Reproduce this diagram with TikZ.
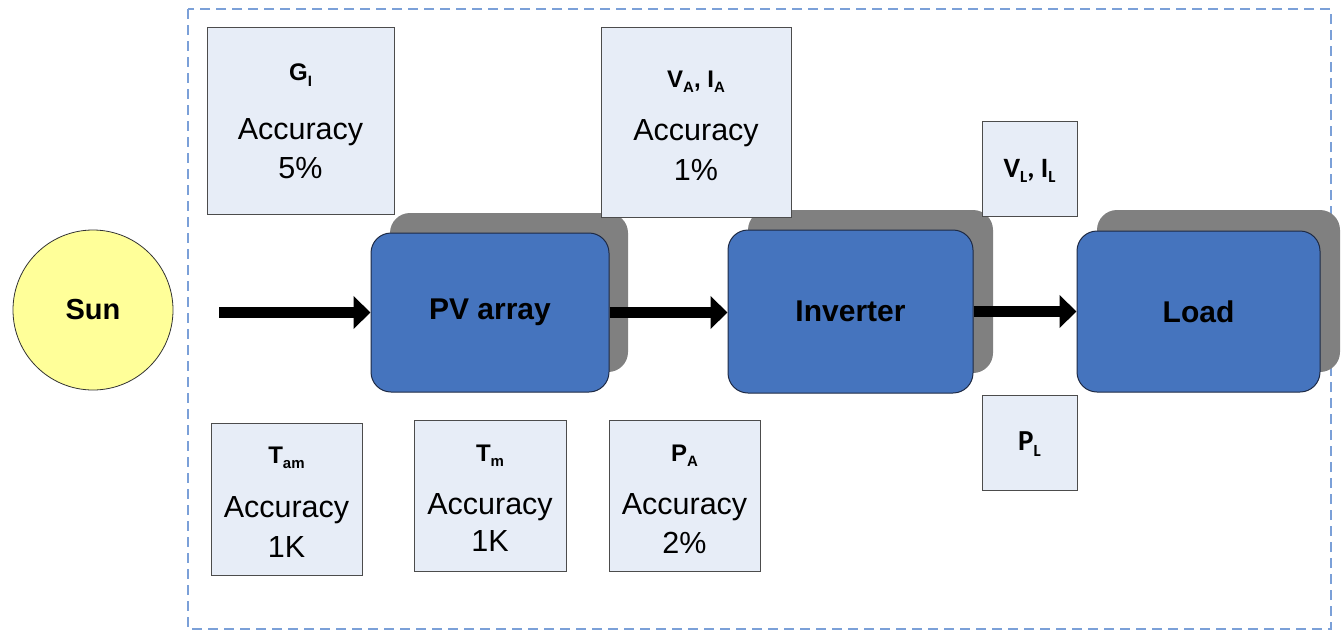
\documentclass[tikz,border=0pt]{standalone}
\usepackage{fontspec}
\setmainfont{Liberation Sans}
\newfontfamily\calfont{Carlito}
\usetikzlibrary{arrows.meta}
\definecolor{frameblue}{HTML}{7BA0D8}
\definecolor{boxblue}{HTML}{4574BE}
\definecolor{boxedge}{HTML}{1E2A44}
\definecolor{shadowgray}{HTML}{808080}
\definecolor{sensorfill}{HTML}{E7EDF7}
\definecolor{sunfill}{HTML}{FFFF99}
\newcommand\mysub[1]{\raisebox{-0.22em}{\fontsize{15}{15}\selectfont #1}}
\newcommand\calsub[1]{\raisebox{-0.18em}{\fontsize{17}{17}\selectfont #1}}
\tikzset{
  sensor/.style={draw=black!70, line width=1pt, fill=sensorfill, inner sep=0pt},
  block/.style={draw=boxedge, line width=1pt, fill=boxblue, rounded corners=20pt,
    minimum width=238pt, minimum height=159pt, font=\fontsize{30}{30}\selectfont\bfseries},
  hdr/.style={font=\fontsize{24}{24}\selectfont\bfseries, inner sep=0pt},
  calhdr/.style={font=\fontsize{28}{28}\selectfont\calfont\bfseries, inner sep=0pt},
  acc/.style={font=\fontsize{30.5}{30.5}\selectfont, inner sep=0pt},
  flow/.style={line width=11pt, -{Triangle[length=17pt 0 0,width=32pt 0 0]}},
}
\begin{document}
\begin{tikzpicture}[x=1pt,y=-1pt]
\useasboundingbox (0,0) rectangle (1341,630);
% frame
\draw[frameblue, line width=1.5pt, dash pattern=on 10pt off 6pt] (188,9) rectangle (1331,629);
% sun
\node[circle, draw=black!80, line width=0.8pt, fill=sunfill, minimum size=160pt, inner sep=0pt,
  font=\fontsize{29}{29}\selectfont\bfseries] (sun) at (93,310) {Sun};
% shadows
\fill[shadowgray, rounded corners=20pt] (390,213) rectangle (628,372);
\fill[shadowgray, rounded corners=20pt] (748,210) rectangle (993,373);
\fill[shadowgray, rounded corners=20pt] (1097,210) rectangle (1340,372);
% blocks
\node[block] (pv) at (490,312.5) {PV array};
\node[block, minimum width=245pt, minimum height=163pt] (inv) at (850.5,311.5) {Inverter};
\node[block, minimum width=243pt, minimum height=161pt] (load) at (1198.5,311.5) {Load};
% sensor boxes
\node[sensor, minimum width=187pt, minimum height=187pt] (gi) at (300.5,120.5) {};
\node[hdr] (gih) at (300.5,75) {G\mysub{I}};
\node[acc] (gia) at (300.5,132) {Accuracy};
\node[acc] (gib) at (300.5,168) {5\%};

\node[sensor, minimum width=190pt, minimum height=190pt] (va) at (696,122) {};
\node[hdr] (vah) at (696,82) {V\mysub{A}, I\mysub{A}};
\node[acc] (vaa) at (696,133) {Accuracy};
\node[acc] (vab) at (696,170) {1\%};

\node[sensor, minimum width=95pt, minimum height=95pt] (vl) at (1029.5,168.5) {};
\node[calhdr] (vlh) at (1029.5,171) {V\calsub{L}, I\calsub{L}};

\node[sensor, minimum width=95pt, minimum height=95pt] (pl) at (1029.5,442.5) {};
\node[calhdr, font=\fontsize{29}{29}\selectfont\calfont\bfseries] (plh) at (1029.5,444) {P\calsub{L}};

\node[sensor, minimum width=151pt, minimum height=152pt] (tam) at (286.5,499) {};
\node[hdr] (tamh) at (286.5,458) {T\mysub{am}};
\node[acc] (tama) at (286.5,510) {Accuracy};
\node[acc] (tamb) at (286.5,547) {1K};

\node[sensor, minimum width=152pt, minimum height=151pt] (tm) at (490,495.5) {};
\node[hdr] (tmh) at (490,456) {T\mysub{m}};
\node[acc] (tma) at (490,507) {Accuracy};
\node[acc] (tmb) at (490,541) {1K};

\node[sensor, minimum width=151pt, minimum height=151pt] (pa) at (684.5,495.5) {};
\node[hdr] (pah) at (684.5,456) {P\mysub{A}};
\node[acc] (paa) at (684.5,507) {Accuracy};
\node[acc] (pab) at (684.5,543) {2\%};
% arrows
\coordinate (a0) at (219,312.5);
\draw[flow] (a0) -- (pv.west);
\draw[flow] (pv.east) -- (inv.west |- pv.east);
\draw[flow] (inv.east) -- (load.west);
\end{tikzpicture}
\end{document}
